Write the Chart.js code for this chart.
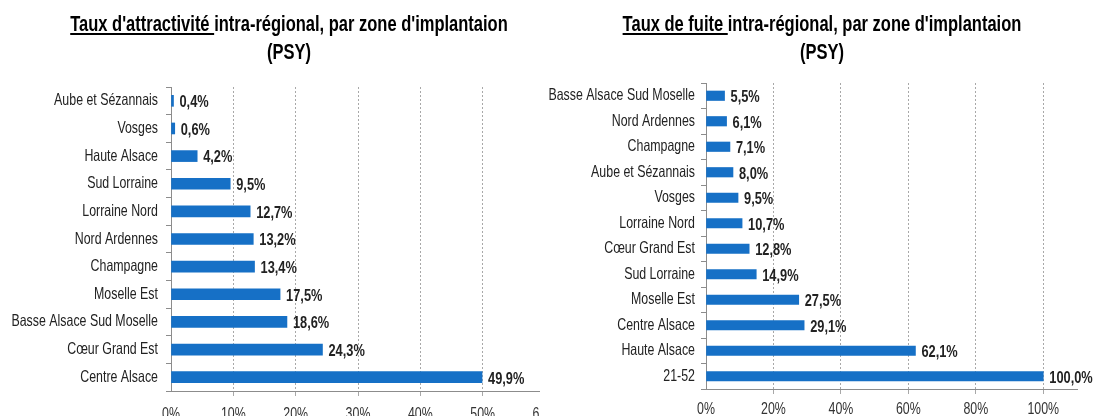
<!DOCTYPE html>
<html>
<head>
<meta charset="utf-8">
<script src="https://cdn.jsdelivr.net/npm/chart.js@4.4.1/dist/chart.umd.min.js"></script>
<style>
  html, body { margin: 0; padding: 0; background: #fff; }
  body { width: 1095px; height: 416px; position: relative; overflow: hidden;
         font-family: "Liberation Sans", Arial, sans-serif; }
  .title { position: absolute; top: 10px; width: 640px; text-align: center; font-weight: bold;
           font-size: 22px; line-height: 28px; color: #000; white-space: nowrap;
           transform: scaleX(0.75); transform-origin: 50% 50%; }
  .title u { text-decoration-thickness: 2px; text-underline-offset: 2px; }
  #leftBox { position: absolute; left: 0; top: 0; width: 540px; height: 416px; overflow: hidden; }
  #leftInner { position: relative; width: 560px; height: 416px; }
  #rightBox { position: absolute; left: 540px; top: 0; width: 555px; height: 416px; }
</style>
</head>
<body>
<div id="leftBox"><div id="leftInner"><canvas id="attrChart"></canvas></div></div>
<div id="rightBox"><canvas id="fuiteChart"></canvas></div>
<div class="title" style="left:-31px;"><u>Taux d'attractivité </u>intra-régional, par zone d'implantaion<br>(PSY)</div>
<div class="title" style="left:502px;"><u>Taux de fuite </u>intra-régional, par zone d'implantaion<br>(PSY)</div>
<script>
const attrLabels = ["Aube et Sézannais", "Vosges", "Haute Alsace", "Sud Lorraine", "Lorraine Nord",
  "Nord Ardennes", "Champagne", "Moselle Est", "Basse Alsace Sud Moselle", "Cœur Grand Est", "Centre Alsace"];
const attrValues = [0.4, 0.6, 4.2, 9.5, 12.7, 13.2, 13.4, 17.5, 18.6, 24.3, 49.9];

const fuiteLabels = ["Basse Alsace Sud Moselle", "Nord Ardennes", "Champagne", "Aube et Sézannais", "Vosges",
  "Lorraine Nord", "Cœur Grand Est", "Sud Lorraine", "Moselle Est", "Centre Alsace", "Haute Alsace", "21-52"];
const fuiteValues = [5.5, 6.1, 7.1, 8.0, 9.5, 10.7, 12.8, 14.9, 27.5, 29.1, 62.1, 100.0];

const attrTicks = [0, 10, 20, 30, 40, 50, 60];
const fuiteTicks = [0, 20, 40, 60, 80, 100];

const FONT = '"Liberation Sans", Arial, sans-serif';
const BLUE = "#1670C6";
const SQUEEZE = 0.75; // the source uses a narrow font

const fmt = (v) => v.toFixed(1).replace(".", ",") + "%";

// text drawn narrower, like Arial Narrow
const narrowText = (ctx, text, x, y, align) => {
  ctx.save();
  ctx.translate(x, y);
  ctx.scale(SQUEEZE, 1);
  ctx.textAlign = align;
  ctx.fillText(text, 0, 0);
  ctx.restore();
};

// axis labels and value labels
const labelPlugin = {
  id: "labelPlugin",
  afterDraw(chart, args, opts) {
    const ctx = chart.ctx;
    const xs = chart.scales.x;
    const ys = chart.scales.y;
    ctx.save();
    ctx.fillStyle = "#222";
    ctx.textBaseline = "middle";
    ctx.font = "16.5px " + FONT;
    chart.data.labels.forEach((lab, i) => {
      narrowText(ctx, lab, ys.right - opts.yGap, ys.getPixelForTick(i), "right");
    });
    ctx.textBaseline = "alphabetic";
    ctx.fillStyle = "#333";
    xs.ticks.forEach((t, i) => {
      narrowText(ctx, t.value + "%", xs.getPixelForTick(i), opts.xBase, "center");
    });
    ctx.textBaseline = "middle";
    ctx.fillStyle = "#222";
    ctx.font = "bold 16px " + FONT;
    const meta = chart.getDatasetMeta(0);
    const data = chart.data.datasets[0].data;
    meta.data.forEach((bar, i) => {
      ctx.save();
      ctx.translate(bar.x + 6, bar.y + 2);
      ctx.scale(0.8, 1);
      ctx.textAlign = "left";
      ctx.fillText(fmt(data[i]), 0, 0);
      ctx.restore();
    });
    ctx.restore();
  },
};

const makeChart = (canvasId, labels, values, tickList, opts) => {
  return new Chart(document.getElementById(canvasId), {
    type: "bar",
    data: {
      labels: labels,
      datasets: [
        {
          data: values,
          backgroundColor: BLUE,
          barThickness: opts.barThickness,
        },
      ],
    },
    plugins: [labelPlugin],
    options: {
      indexAxis: "y",
      responsive: true,
      maintainAspectRatio: false,
      animation: false,
      layout: { padding: { top: opts.top, right: opts.right, left: 0, bottom: 0 } },
      plugins: {
        legend: { display: false },
        tooltip: { enabled: false },
        labelPlugin: { yGap: opts.yGap, xBase: opts.xBase },
      },
      scales: {
        x: {
          min: 0,
          max: opts.max,
          afterBuildTicks: (scale) => {
            scale.ticks = tickList.map((v) => ({ value: v }));
          },
          afterFit: (scale) => {
            scale.height = opts.xHeight;
          },
          grid: {
            color: (c) => (c.index === 0 ? "rgba(0,0,0,0)" : "#a8a8a8"),
            tickLength: 5,
          },
          border: { color: "#8c8c8c", dash: [2, 2] },
          ticks: { display: false },
        },
        y: {
          afterFit: (scale) => {
            scale.width = opts.yWidth;
          },
          grid: {
            drawOnChartArea: false,
            tickLength: 5,
            color: "#8c8c8c",
          },
          border: { color: "#8c8c8c" },
          ticks: { display: false, autoSkip: false },
        },
      },
    },
  });
};

makeChart("attrChart", attrLabels, attrValues, attrTicks,
  { max: 60, top: 87, right: 15, xHeight: 25, yWidth: 171, barThickness: 11, yGap: 13, xBase: 418.5 });
makeChart("fuiteChart", fuiteLabels, fuiteValues, fuiteTicks,
  { max: 110, top: 83, right: 18, xHeight: 27, yWidth: 166, barThickness: 9.5, yGap: 11, xBase: 414 });
</script>
</body>
</html>
